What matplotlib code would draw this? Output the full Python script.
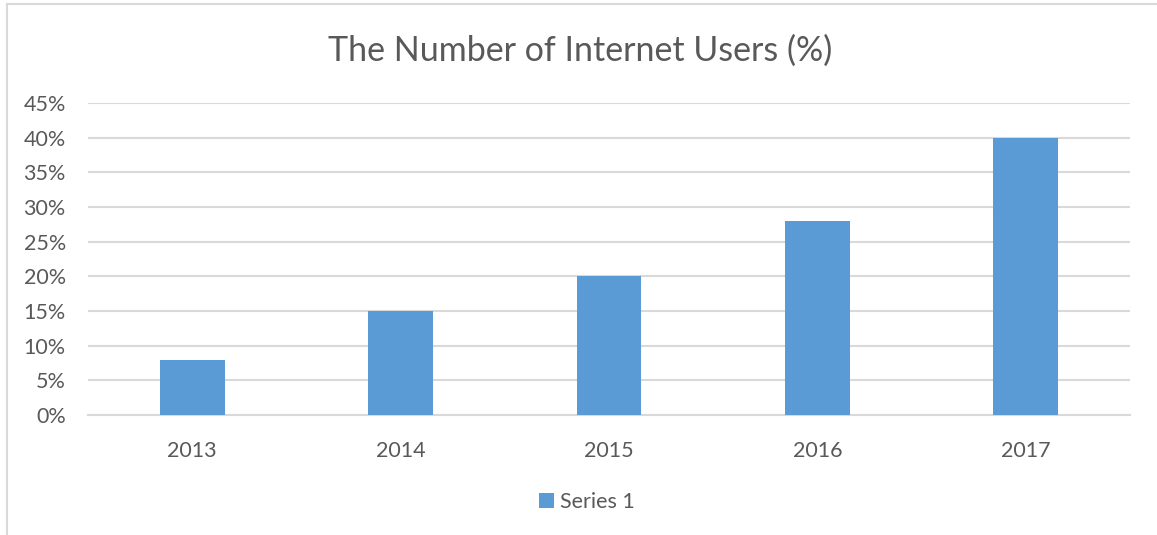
import matplotlib
matplotlib.use("Agg")
import matplotlib.pyplot as plt
from matplotlib.lines import Line2D
from matplotlib.ticker import FuncFormatter, MultipleLocator

years = ["2013", "2014", "2015", "2016", "2017"]
values = [8, 15, 20, 28, 40]
series_name = "Series 1"
title = "The Number of Internet Users (%)"

TEXT = "#595959"
BAR = "#5B9BD5"
GRID = "#D9D9D9"

plt.rcParams['font.family'] = ['Lato', 'DejaVu Sans']

W, H = 1157, 535
fig = plt.figure(figsize=(W / 100, H / 100), dpi=100)
ax = fig.add_axes([88 / W, (H - 415) / H, (1130 - 88) / W, (415 - 103) / H])

x = list(range(len(years)))
ax.bar(x, values, width=0.31, color=BAR, label=series_name, zorder=3)

ax.set_xlim(-0.5, len(years) - 0.5)
ax.set_ylim(0, 45)
ax.yaxis.set_major_locator(MultipleLocator(5))
ax.yaxis.set_major_formatter(FuncFormatter(lambda v, p: f"{int(round(v))}%"))
ax.set_xticks(x)
ax.set_xticklabels(years)
ax.grid(axis='y', color=GRID, linewidth=1.5, zorder=0)
for s in ax.spines.values():
    s.set_visible(False)
ax.spines['bottom'].set_visible(True)
ax.spines['bottom'].set_color(GRID)
ax.spines['bottom'].set_linewidth(1.5)
ax.tick_params(axis='both', length=0, labelsize=15.5, colors=TEXT)
ax.tick_params(axis='y', pad=16)
ax.tick_params(axis='x', pad=19)

fig.text(580 / W, 1 - 51 / H, title, ha='center', va='center', fontsize=24.5, color=TEXT)

leg = fig.legend(loc='center', bbox_to_anchor=(587 / W, 1 - 502 / H), frameon=False,
                 fontsize=15.5, labelcolor=TEXT, handlelength=0.7, handleheight=0.7,
                 handletextpad=0.3)

# chart border (partially cropped)
fig.add_artist(Line2D([7 / W, 7 / W], [0, 1 - 4 / H], color=GRID, linewidth=1.5, transform=fig.transFigure))
fig.add_artist(Line2D([7 / W, 1], [1 - 4 / H, 1 - 4 / H], color=GRID, linewidth=1.5, transform=fig.transFigure))

fig.savefig("out.png", dpi=100)
